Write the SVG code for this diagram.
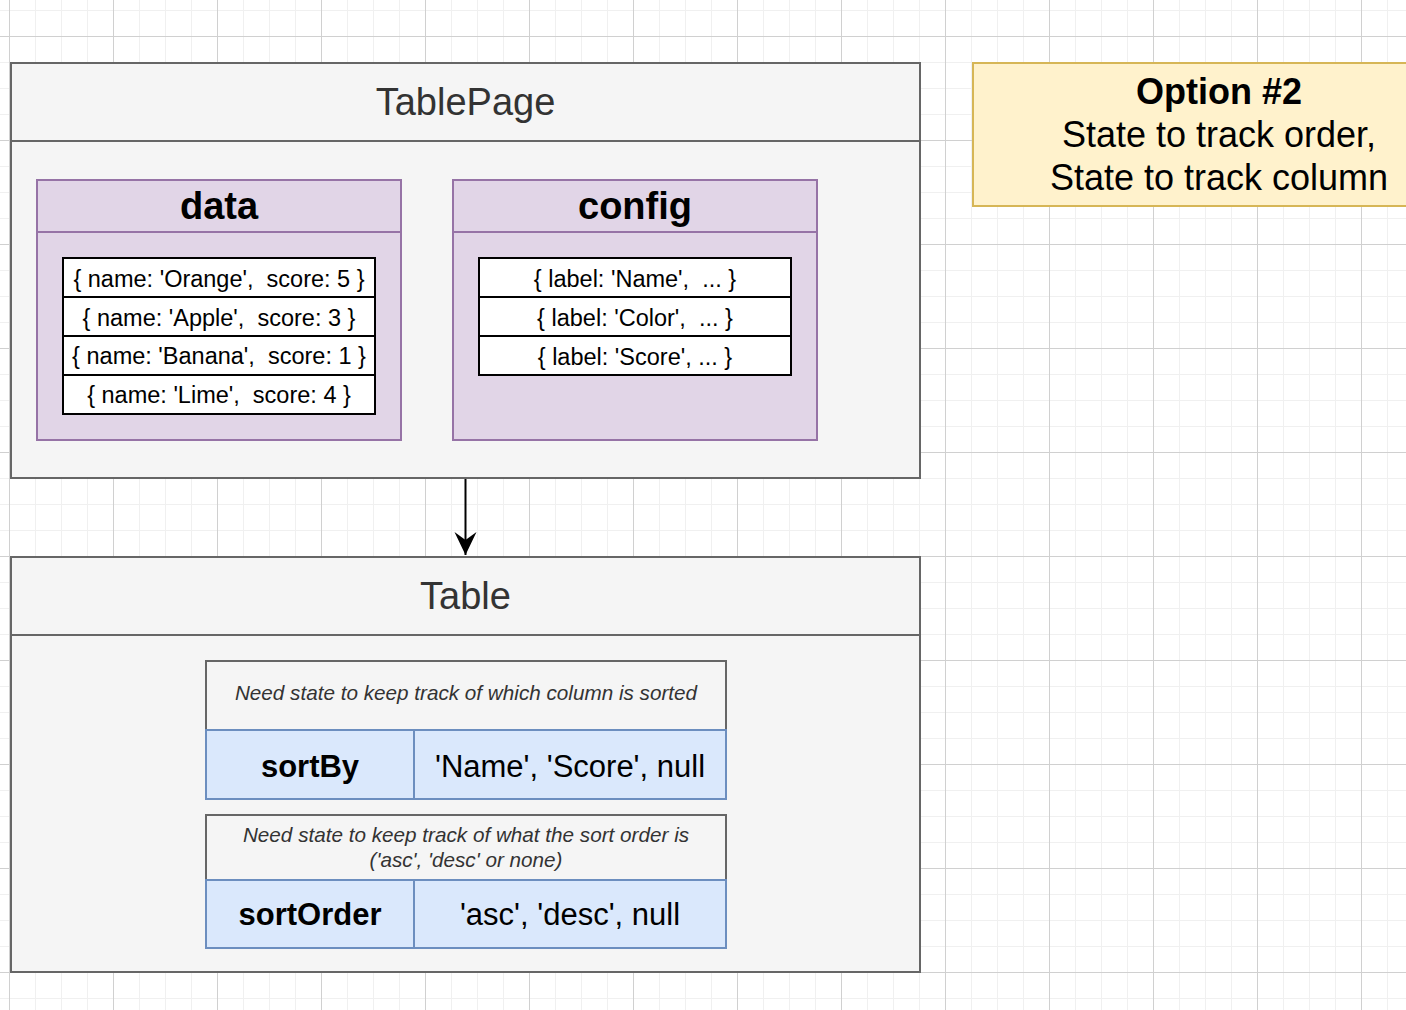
<svg xmlns="http://www.w3.org/2000/svg" width="1406" height="1010" viewBox="0 0 1406 1010">
<style>
.t{font-family:"Liberation Sans",Arial,Helvetica,sans-serif;text-anchor:middle}
.gray{fill:#f5f5f5;stroke:#666666;stroke-width:2}
.purple{fill:#e1d5e7;stroke:#9673a6;stroke-width:2}
.row{fill:#ffffff;stroke:#000000;stroke-width:2}
.blue{fill:#dae8fc;stroke:#6c8ebf;stroke-width:2}
.yellow{fill:#fff2cc;stroke:#d6b656;stroke-width:2}
.title{font-size:38px;fill:#333333}
.head{font-size:38px;font-weight:bold;fill:#000}
.item{font-size:23.5px;fill:#000}
.note{font-size:20.7px;font-style:italic;fill:#333333}
.key{font-size:31px;font-weight:bold;fill:#000}
.val{font-size:31px;fill:#000}
.opt{font-size:36px;fill:#000}
</style>
<defs>
<pattern id="minor" patternUnits="userSpaceOnUse" x="9" y="10" width="26" height="26">
<path d="M0.5 0V26M0 0.5H26" stroke="#f0f0f0" stroke-width="1" fill="none"/>
</pattern>
<pattern id="major" patternUnits="userSpaceOnUse" x="9" y="36" width="104" height="104">
<path d="M0.5 0V104M0 0.5H104" stroke="#d0d0d0" stroke-width="1" fill="none"/>
</pattern>
<marker id="arrow" markerUnits="userSpaceOnUse" viewBox="0 0 24 24" refX="23" refY="12" markerWidth="24" markerHeight="24" orient="auto">
<path d="M23 12L0 1L8 12L0 23Z" fill="#000"/>
</marker>
</defs>
<rect width="1406" height="1010" fill="#ffffff"/>
<rect width="1406" height="1010" fill="url(#minor)"/>
<rect width="1406" height="1010" fill="url(#major)"/>

<g id="connectors">
<path d="M465.5 479V555" stroke="#000" stroke-width="2" fill="none" marker-end="url(#arrow)"/>
</g>

<g id="tablepage">
<rect class="gray" x="11" y="63" width="909" height="415"/>
<line x1="11" y1="141" x2="920" y2="141" stroke="#666666" stroke-width="2"/>
<text class="t title" x="465.5" y="115">TablePage</text>
</g>

<g id="data">
<rect class="purple" x="37" y="180" width="364" height="260"/>
<line x1="37" y1="232" x2="401" y2="232" stroke="#9673a6" stroke-width="2"/>
<text class="t head" x="219" y="219">data</text>
<rect class="row" x="63" y="258" width="312" height="39"/>
<rect class="row" x="63" y="297" width="312" height="39"/>
<rect class="row" x="63" y="336" width="312" height="39"/>
<rect class="row" x="63" y="375" width="312" height="39"/>
<text class="t item" x="219" y="287" xml:space="preserve">{ name: 'Orange',  score: 5 }</text>
<text class="t item" x="219" y="326" xml:space="preserve">{ name: 'Apple',  score: 3 }</text>
<text class="t item" x="219" y="364" xml:space="preserve">{ name: 'Banana',  score: 1 }</text>
<text class="t item" x="219" y="403" xml:space="preserve">{ name: 'Lime',  score: 4 }</text>
</g>

<g id="config">
<rect class="purple" x="453" y="180" width="364" height="260"/>
<line x1="453" y1="232" x2="817" y2="232" stroke="#9673a6" stroke-width="2"/>
<text class="t head" x="635" y="219">config</text>
<rect class="row" x="479" y="258" width="312" height="39"/>
<rect class="row" x="479" y="297" width="312" height="39"/>
<rect class="row" x="479" y="336" width="312" height="39"/>
<text class="t item" x="635" y="287" xml:space="preserve">{ label: 'Name',  ... }</text>
<text class="t item" x="635" y="326" xml:space="preserve">{ label: 'Color',  ... }</text>
<text class="t item" x="635" y="365" xml:space="preserve">{ label: 'Score', ... }</text>
</g>

<g id="option">
<rect class="yellow" x="973" y="63" width="500" height="143"/>
<text class="t opt" x="1219" y="104" font-weight="bold">Option #2</text>
<text class="t opt" x="1219" y="147">State to track order,</text>
<text class="t opt" x="1219" y="190">State to track column</text>
</g>

<g id="table">
<rect class="gray" x="11" y="557" width="909" height="415"/>
<line x1="11" y1="635" x2="920" y2="635" stroke="#666666" stroke-width="2"/>
<text class="t title" x="465.5" y="609">Table</text>
</g>

<g id="sortBy">
<rect class="gray" x="206" y="661" width="520" height="69"/>
<text class="t note" x="466" y="700">Need state to keep track of which column is sorted</text>
<rect class="blue" x="206" y="730" width="208" height="69"/>
<rect class="blue" x="414" y="730" width="312" height="69"/>
<text class="t key" x="310" y="777">sortBy</text>
<text class="t val" x="570" y="777">'Name', 'Score', null</text>
</g>

<g id="sortOrder">
<rect class="gray" x="206" y="815" width="520" height="65"/>
<text class="t note" x="466" y="842">Need state to keep track of what the sort order is</text>
<text class="t note" x="466" y="867">('asc', 'desc' or none)</text>
<rect class="blue" x="206" y="880" width="208" height="68"/>
<rect class="blue" x="414" y="880" width="312" height="68"/>
<text class="t key" x="310" y="925">sortOrder</text>
<text class="t val" x="570" y="925">'asc', 'desc', null</text>
</g>
</svg>
